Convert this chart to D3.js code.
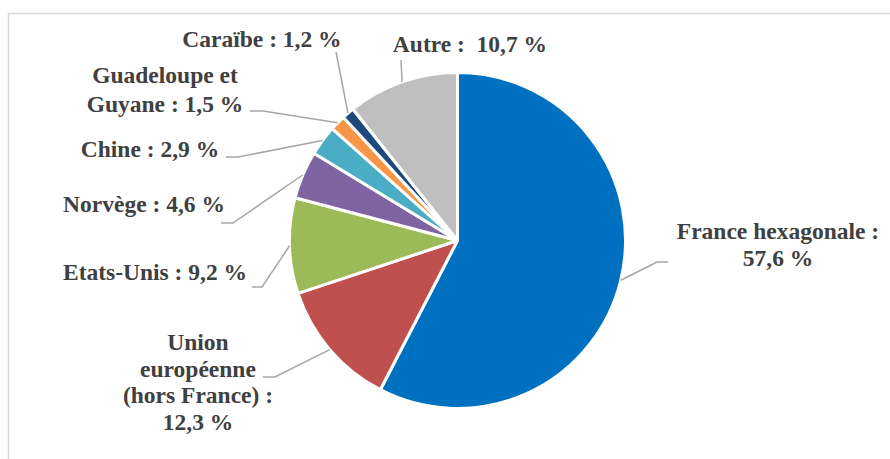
<!DOCTYPE html>
<html>
<head>
<meta charset="utf-8">
<script src="https://cdn.jsdelivr.net/npm/d3@7"></script>
<style>
  html, body { margin: 0; padding: 0; background: #fff; }
  svg { display: block; }
  .lbl { font-family: "Liberation Serif", "Times New Roman", Tinos, serif; font-weight: bold; font-size: 23.5px; fill: #404040; white-space: pre; }
</style>
</head>
<body>
<svg id="chart" width="890" height="459"></svg>
<script>
// ---- data ----
const categories = ["France hexagonale", "Union européenne (hors France)", "Etats-Unis", "Norvège", "Chine", "Guadeloupe et Guyane", "Caraïbe", "Autre"];
const values = [57.6, 12.3, 9.2, 4.6, 2.9, 1.5, 1.2, 10.7];
const labelTexts = [
  ["France hexagonale :", "57,6 %"],
  ["Union", "européenne", "(hors France) :", "12,3 %"],
  ["Etats-Unis : 9,2 %"],
  ["Norvège : 4,6 %"],
  ["Chine : 2,9 %"],
  ["Guadeloupe et", "Guyane : 1,5 %"],
  ["Caraïbe : 1,2 %"],
  ["Autre :  10,7 %"]
];

// ---- styles / layout ----
const colors = ["#0070C0", "#C0504D", "#9BBB59", "#8064A2", "#4BACC6", "#F79646", "#1F497D", "#BFBFBF"];
const cx = 457.5, cy = 240.5, R = 168;
const lineH = 27;
const labelLayout = [
  { x: 778, y: 239, pts: [[657, 262], [668, 262]] },
  { x: 198, y: 350, lh: 26.7, pts: [[275, 377], [263, 377]] },
  { x: 155, y: 280, pts: [[262, 287], [252, 287]] },
  { x: 144, y: 212, pts: [[233, 223], [221, 223]] },
  { x: 150, y: 157, pts: [[238, 157], [226, 157]] },
  { x: 165, y: 83, lh: 28.5, pts: [[263, 111], [250, 111]] },
  { x: 262, y: 47, pts: [[336, 52]] },
  { x: 470, y: 52, pts: [[401, 60]] }
];

const svg = d3.select("#chart");

svg.append("rect")
  .attr("x", 8.5).attr("y", 13.5)
  .attr("width", 900).attr("height", 460)
  .attr("fill", "none")
  .attr("stroke", "#D9D9D9")
  .attr("stroke-width", 1.5);

const pie = d3.pie().sort(null).value(d => d)(values);
const arc = d3.arc().innerRadius(0).outerRadius(R);

const g = svg.append("g").attr("transform", `translate(${cx},${cy})`);

g.selectAll("path.slice")
  .data(pie)
  .join("path")
  .attr("class", "slice")
  .attr("d", arc)
  .attr("fill", (d, i) => colors[i])
  .attr("stroke", "#fff")
  .attr("stroke-width", 3)
  .attr("stroke-linejoin", "round");

const line = d3.line();
pie.forEach((d, i) => {
  const a = (d.startAngle + d.endAngle) / 2;
  const anchor = [cx + Math.sin(a) * R, cy - Math.cos(a) * R];
  const pts = [anchor].concat(labelLayout[i].pts);
  svg.append("path")
    .attr("d", line(pts))
    .attr("fill", "none")
    .attr("stroke", "#A6A6A6")
    .attr("stroke-width", 1.5);
});

labelTexts.forEach((lines, i) => {
  const L = labelLayout[i];
  const lh = L.lh || lineH;
  const t = svg.append("text")
    .attr("class", "lbl")
    .attr("text-anchor", "middle");
  lines.forEach((s, j) => {
    t.append("tspan")
      .attr("x", L.x)
      .attr("y", L.y + j * lh)
      .text(s);
  });
});
</script>
</body>
</html>
